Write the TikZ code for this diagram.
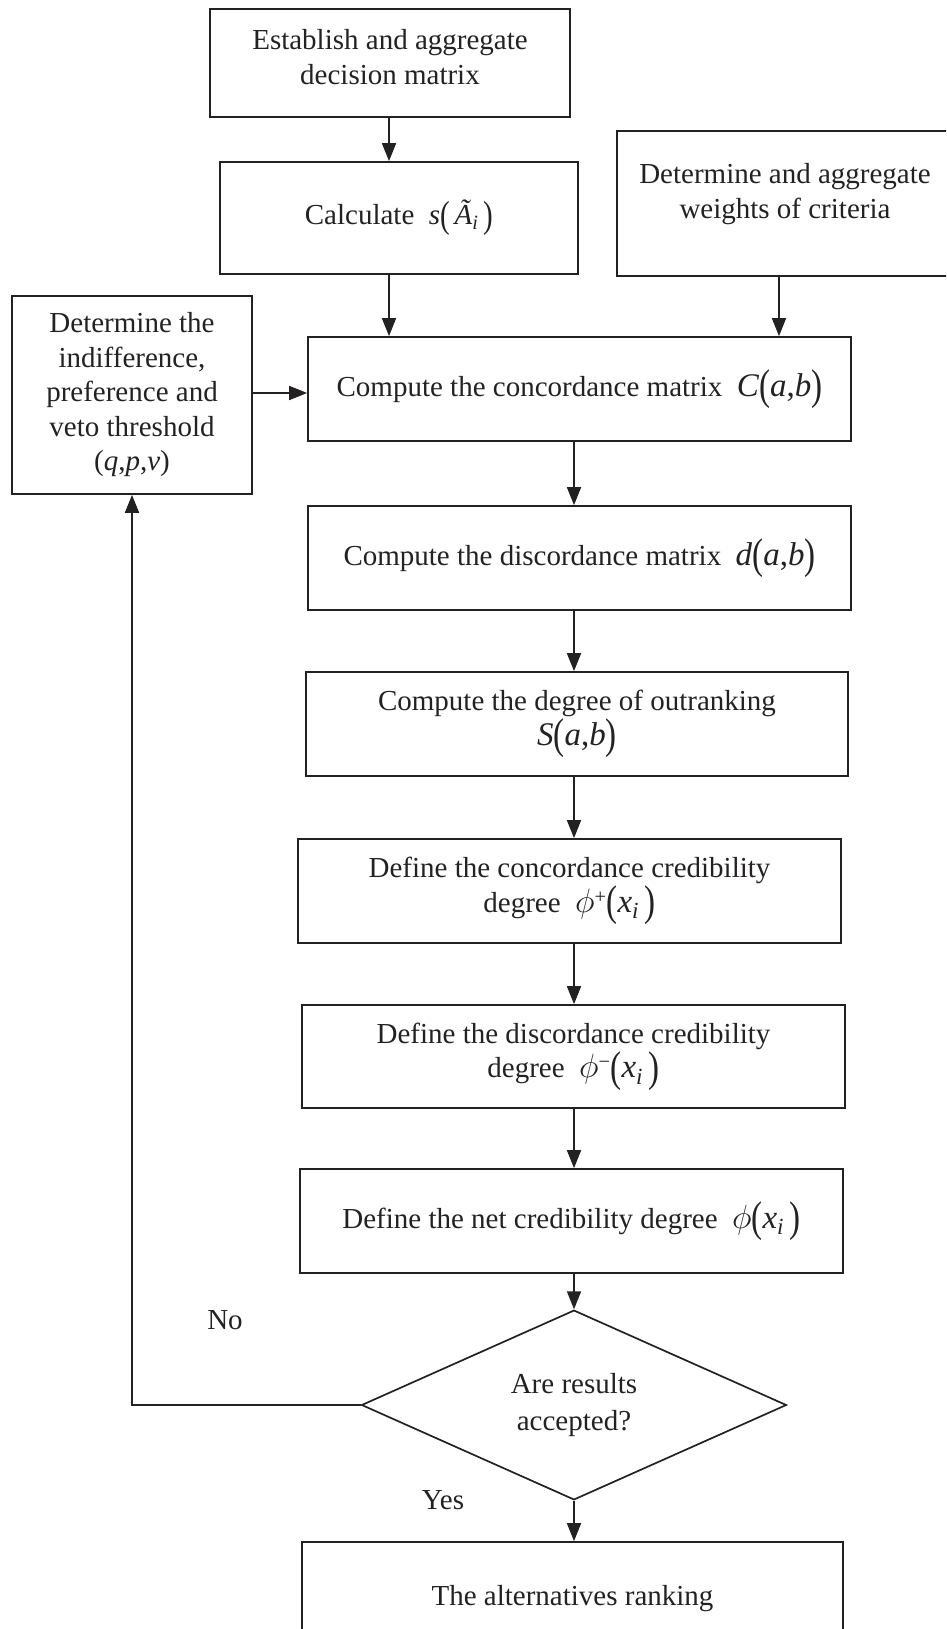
\documentclass[tikz,border=0pt]{standalone}
\usepackage{fontspec}
\setmainfont{Liberation Serif}
\usepackage{graphicx}
\usetikzlibrary{arrows.meta,shapes.geometric}
\definecolor{ink}{rgb}{0.14,0.13,0.13}
\newcommand{\bp}[1]{\raisebox{-0.1em}{\scalebox{1}[1.3]{(}}#1\raisebox{-0.1em}{\scalebox{1}[1.3]{)}}}
\newcommand{\mbig}{\fontsize{33}{36}\selectfont}
\newcommand{\phisym}{{\fontsize{24.88}{30}\selectfont\scalebox{1.35}{$\phi$}}}
\begin{document}
\begin{tikzpicture}[x=1pt,y=-1pt,
  box/.style={draw=ink,line width=1.7pt,rectangle,inner sep=0pt,text=ink,align=center,font=\fontsize{29}{34.5}\selectfont},
  txt/.style={text=ink,align=center,font=\fontsize{29}{34.5}\selectfont,inner sep=0pt},
  arr/.style={draw=ink,line width=1.7pt,-{Triangle[length=18pt,width=14pt]}},
  ln/.style={draw=ink,line width=1.7pt}]
\useasboundingbox (0,0) rectangle (946,1629);
\clip (0,0) rectangle (946,1629);

% boxes
\node[box,minimum width=360pt,minimum height=108pt] (b1) at (390,63) {};
\node[txt] (t1) at (390,57) {Establish and aggregate\\decision matrix};

\node[box,minimum width=358pt,minimum height=112pt] (b2) at (399,218)
  {Calculate\ \ \textit{s}\bp{\,\textit{\~A}\textsubscript{\textit{i}}\,}};

\node[box,minimum width=336pt,minimum height=145pt] (b3) at (785,203.5) {};
\node[txt] (t3) at (785,194) {Determine and aggregate\\weights of criteria};

\node[box,minimum width=240pt,minimum height=198pt] (b4) at (132,395)
  {Determine the\\indifference,\\preference and\\veto threshold\\(\textit{q},\textit{p},\textit{v})};

\node[box,minimum width=543pt,minimum height=104pt] (b5) at (579.5,389)
  {Compute the concordance matrix\ \ {\mbig\textit{C}\bp{\textit{a},\textit{b}}}};

\node[box,minimum width=543pt,minimum height=104pt] (b6) at (579.5,558)
  {Compute the discordance matrix\ \ {\mbig\textit{d}\bp{\textit{a},\textit{b}}}};

\node[box,minimum width=542pt,minimum height=104pt] (b7) at (577,724)
  {Compute the degree of outranking\\{\mbig\textit{S}\bp{\textit{a},\textit{b}}}};

\node[box,minimum width=543pt,minimum height=104pt] (b8) at (569.5,891)
  {Define the concordance credibility\\degree\ \ \phisym\textsuperscript{+}{\mbig\bp{\textit{x}\textsubscript{\textit{i}}\,}}};

\node[box,minimum width=543pt,minimum height=103pt] (b9) at (573.5,1056.5)
  {Define the discordance credibility\\degree\ \ \phisym\textsuperscript{\textminus}{\mbig\bp{\textit{x}\textsubscript{\textit{i}}\,}}};

\node[box,minimum width=543pt,minimum height=104pt] (b10) at (571.5,1221)
  {Define the net credibility degree\ \ \phisym{\mbig\bp{\textit{x}\textsubscript{\textit{i}}\,}}};

\node[draw=ink,line width=1.7pt,diamond,inner sep=0pt,minimum width=425pt,minimum height=149pt,
  text=ink,align=center,font=\fontsize{29}{37}\selectfont] (d) at (574,1405) {Are results\\accepted?};

\node[box,minimum width=541pt,minimum height=113pt] (b11) at (572.5,1598.5)
  {The alternatives ranking};

% labels
\node[txt] (no) at (225,1320) {No};
\node[txt] (yes) at (443,1500) {Yes};

% helper coordinates
\coordinate (c12) at (389,0);
\coordinate (c35) at (779,0);
\coordinate (c45) at (0,393);

% connectors
\draw[arr] (b1.south -| c12) -- (b2.north -| c12);
\draw[arr] (b2.south -| c12) -- (b5.north -| c12);
\draw[arr] (b3.south -| c35) -- (b5.north -| c35);
\draw[arr] (b4.east |- c45) -- (b5.west |- c45);
\draw[arr] (b5.south -| d.north) -- (b6.north -| d.north);
\draw[arr] (b6.south -| d.north) -- (b7.north -| d.north);
\draw[arr] (b7.south -| d.north) -- (b8.north -| d.north);
\draw[arr] (b8.south -| d.north) -- (b9.north -| d.north);
\draw[arr] (b9.south -| d.north) -- (b10.north -| d.north);
\draw[arr] (b10.south -| d.north) -- (d.north);
\draw[arr] (d.south) -- (b11.north -| d.south);
\draw[arr] (d.west) -| (b4.south);
\end{tikzpicture}
\end{document}
